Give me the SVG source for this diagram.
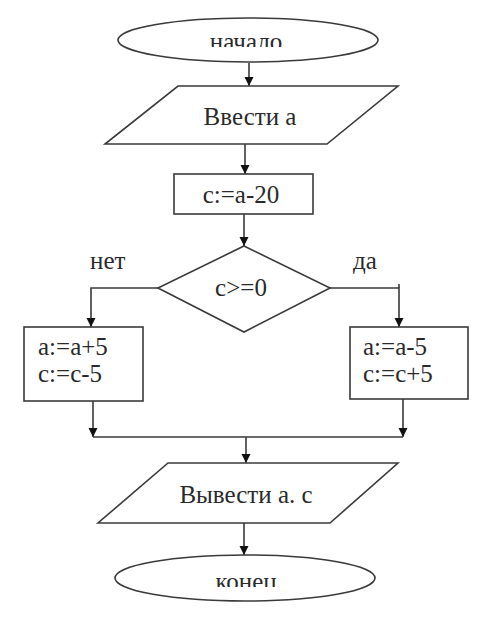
<svg xmlns="http://www.w3.org/2000/svg" width="500" height="628" viewBox="0 0 500 628">
<style>
.s{fill:#fff;stroke:#3a3a3a;stroke-width:1.6}
.c{fill:none;stroke:#3a3a3a;stroke-width:1.6}
.t{font-family:"Liberation Serif","Times New Roman",serif;font-size:25px;fill:#2a2a2a}
.m{text-anchor:middle}
</style>
<defs>
<marker id="ah" markerUnits="userSpaceOnUse" markerWidth="10" markerHeight="10" refX="9" refY="4.5" orient="auto">
<path d="M0,0 L9,4.5 L0,9 z" fill="#111"/>
</marker>
<clipPath id="clipStart"><rect x="150" y="30" width="200" height="17"/></clipPath>
<clipPath id="clipEnd"><rect x="150" y="570" width="200" height="17"/></clipPath>
</defs>
<rect width="500" height="628" fill="#fff"/>
<g id="connectors">
<line class="c" x1="249" y1="63" x2="249" y2="86" marker-end="url(#ah)"/>
<line class="c" x1="245" y1="144" x2="245" y2="174" marker-end="url(#ah)"/>
<line class="c" x1="244" y1="214" x2="244" y2="246" marker-end="url(#ah)"/>
<polyline class="c" points="158,288 91,288 91,327" marker-end="url(#ah)"/>
<polyline class="c" points="330,288 399,288 399,327" marker-end="url(#ah)"/>
<line class="c" x1="399" y1="284" x2="399" y2="288"/>
<line class="c" x1="93" y1="401" x2="93" y2="437" marker-end="url(#ah)"/>
<line class="c" x1="403" y1="399" x2="403" y2="437" marker-end="url(#ah)"/>
<line class="c" x1="93" y1="437" x2="403" y2="437"/>
<line class="c" x1="246" y1="437" x2="246" y2="463" marker-end="url(#ah)"/>
<line class="c" x1="244" y1="523" x2="244" y2="555" marker-end="url(#ah)"/>
</g>
<g id="start">
<ellipse class="s" cx="248" cy="40" rx="130" ry="22"/>
<text class="t m" x="246" y="50" clip-path="url(#clipStart)">начало</text>
</g>
<g id="input">
<polygon class="s" points="178,86 398,86 327,144 105,144"/>
<text class="t m" x="250" y="125">Ввести а</text>
</g>
<g id="calc">
<rect class="s" x="174" y="174" width="139" height="40"/>
<text class="t m" x="241" y="203">c:=a-20</text>
</g>
<g id="cond">
<polygon class="s" points="244,246 330,288 244,332 158,288"/>
<text class="t m" x="241" y="296">c&gt;=0</text>
</g>
<g id="label-no"><text class="t" x="90" y="269">нет</text></g>
<g id="label-yes"><text class="t" x="353" y="269">да</text></g>
<g id="left-box">
<rect class="s" x="24" y="327" width="119" height="74"/>
<text class="t" x="38" y="355">a:=a+5</text>
<text class="t" x="38" y="382">c:=c-5</text>
</g>
<g id="right-box">
<rect class="s" x="350" y="327" width="118" height="72"/>
<text class="t" x="363" y="355">a:=a-5</text>
<text class="t" x="363" y="382">c:=c+5</text>
</g>
<g id="output">
<polygon class="s" points="168,463 398,463 330,523 98,523"/>
<text class="t m" x="246" y="503">Вывести а. с</text>
</g>
<g id="end">
<ellipse class="s" cx="245" cy="578" rx="130" ry="23"/>
<text class="t m" x="246" y="590" clip-path="url(#clipEnd)">конец</text>
</g>
</svg>
